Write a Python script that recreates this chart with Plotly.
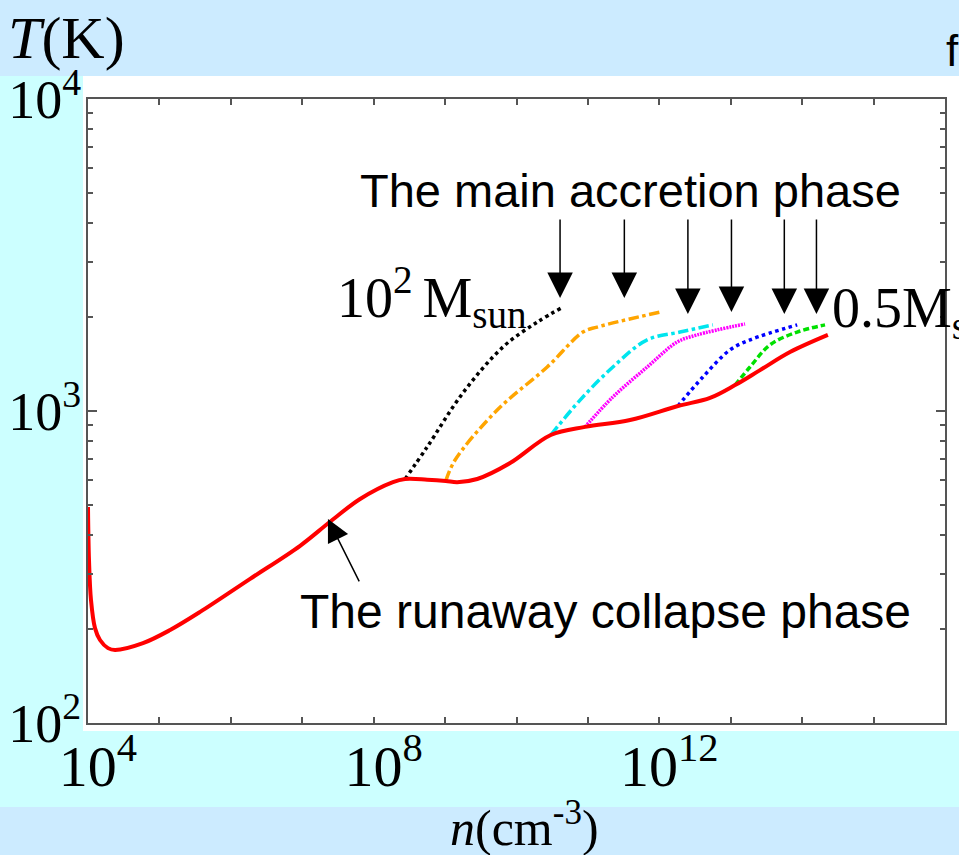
import plotly.graph_objects as go

# ---------------- data (log10 values) ----------------
red_log_n = [4.0, 4.014, 4.042, 4.098, 4.168, 4.28, 4.378, 4.77, 5.15, 5.57, 6.27, 6.97,
             7.39, 7.81, 8.27, 8.44, 8.75, 9.01, 9.17, 9.45, 9.91, 10.48, 10.96, 11.59,
             12.26, 12.71, 13.06, 13.41, 13.83, 14.36]
red_log_T = [2.692, 2.522, 2.394, 2.304, 2.266, 2.24, 2.234, 2.256, 2.298, 2.356, 2.462, 2.568,
             2.645, 2.718, 2.772, 2.782, 2.780, 2.776, 2.772, 2.782, 2.833, 2.923, 2.949, 2.971,
             3.016, 3.042, 3.083, 3.131, 3.189, 3.244]

black_log_n = [8.44, 8.75, 9.25, 9.81, 10.29, 10.65]
black_log_T = [2.782, 2.885, 3.058, 3.205, 3.285, 3.333]

orange_log_n = [9.01, 9.14, 9.73, 10.43, 10.93, 11.13, 12.01]
orange_log_T = [2.776, 2.843, 3.003, 3.141, 3.253, 3.269, 3.317]

cyan_log_n = [10.48, 10.89, 11.35, 11.83, 12.29, 12.75]
cyan_log_T = [2.923, 3.035, 3.141, 3.228, 3.253, 3.276]

magenta_log_n = [10.96, 11.35, 11.83, 12.25, 12.53, 13.20]
magenta_log_T = [2.949, 3.045, 3.141, 3.221, 3.244, 3.279]

blue_log_n = [12.26, 12.61, 12.99, 13.27, 13.93]
blue_log_T = [3.016, 3.109, 3.196, 3.228, 3.276]

green_log_n = [13.06, 13.27, 13.55, 13.93, 14.32]
green_log_T = [3.083, 3.141, 3.212, 3.253, 3.276]

# accretion-phase arrows: tip positions (log10 n, log10 T)
arrow_log_n = [10.61, 11.51, 12.40, 13.01, 13.75, 14.20]
arrow_log_T = [3.362, 3.362, 3.311, 3.317, 3.311, 3.311]

x_tick_exp = list(range(4, 17))
x_label_exp = [4, 8, 12]
y_tick_exp = [2, 3, 4]

# ---------------- figure ----------------
def lin(v):
    return [10 ** a for a in v]

fig = go.Figure()

series = [
    (black_log_n, black_log_T, "black", "dot", 3.5),
    (orange_log_n, orange_log_T, "#FFA500", "dashdot", 3.5),
    (cyan_log_n, cyan_log_T, "#00E5EE", "dashdot", 3.5),
    (magenta_log_n, magenta_log_T, "#FF00FF", "2px,1px", 3.5),
    (blue_log_n, blue_log_T, "#0000FF", "dot", 3.5),
    (green_log_n, green_log_T, "#00E000", "6px,3px", 3.5),
]
for xs, ys, col, dash, w in series:
    fig.add_trace(go.Scatter(x=lin(xs), y=lin(ys), mode="lines",
                             line=dict(color=col, dash=dash, width=w, shape="spline", smoothing=1.0),
                             showlegend=False, hoverinfo="skip"))

fig.add_trace(go.Scatter(x=lin(red_log_n), y=lin(red_log_T), mode="lines",
                         line=dict(color="#FF0000", width=4, shape="spline", smoothing=1.0),
                         showlegend=False, hoverinfo="skip"))

serif = "Liberation Serif, Times New Roman, serif"
sans = "Liberation Sans, Arial, sans-serif"
axcol = "#555555"

fig.update_xaxes(type="log", range=[4, 16], showgrid=False, zeroline=False, automargin=False,
                 showline=True, linecolor=axcol, linewidth=2, mirror="ticks",
                 ticks="inside", ticklen=6, tickwidth=1.5, tickcolor=axcol,
                 tickmode="array", tickvals=[10 ** e for e in x_tick_exp],
                 ticktext=[("10<sup>%d</sup>" % e) if e in x_label_exp else "" for e in x_tick_exp],
                 tickfont=dict(family=serif, size=58, color="black"),
                 ticklabelstandoff=-9, ticklabelshift=10)

minor_vals = [m * 10 ** e for e in [2, 3] for m in range(2, 10)]
fig.update_yaxes(type="log", range=[2, 4], showgrid=False, zeroline=False, automargin=False,
                 showline=True, linecolor=axcol, linewidth=2, mirror="ticks",
                 ticks="inside", ticklen=9, tickwidth=1.5, tickcolor=axcol,
                 tickmode="array", tickvals=[10 ** e for e in y_tick_exp],
                 ticktext=["10<sup>%d</sup>" % e for e in y_tick_exp],
                 tickfont=dict(family=serif, size=54, color="black"),
                 ticklabelstandoff=-6,
                 minor=dict(ticks="inside", ticklen=5, tickwidth=1.5, tickcolor=axcol,
                            tickmode="array", tickvals=minor_vals, showgrid=False))

W, H = 959, 855
L, R, T, B = 88, 14, 99, 132
pw, ph = W - L - R, H - T - B

def px(x):
    return (x - L) / pw

def py(y):
    return (H - B - y) / ph

blue_band = "#CCEBFF"
cyan_band = "#CCFFFF"
shapes = [
    dict(type="rect", xref="paper", yref="paper", x0=px(0), x1=px(W), y0=py(76), y1=py(0),
         fillcolor=blue_band, line=dict(width=0), layer="below"),
    dict(type="rect", xref="paper", yref="paper", x0=px(0), x1=px(83), y0=py(807), y1=py(76),
         fillcolor=cyan_band, line=dict(width=0), layer="below"),
    dict(type="rect", xref="paper", yref="paper", x0=px(0), x1=px(W), y0=py(807), y1=py(731),
         fillcolor=cyan_band, line=dict(width=0), layer="below"),
    dict(type="rect", xref="paper", yref="paper", x0=px(0), x1=px(W), y0=py(H), y1=py(807),
         fillcolor=blue_band, line=dict(width=0), layer="below"),
]

annotations = [
    dict(text="<i>T</i>(K)", xref="paper", yref="paper", x=px(6), y=py(38),
         xanchor="left", yanchor="middle", showarrow=False,
         font=dict(family=serif, size=60, color="black")),
    dict(text="<i>n</i>(cm<sup>-3</sup>)", xref="paper", yref="paper", x=px(524), y=py(824),
         xanchor="center", yanchor="middle", showarrow=False,
         font=dict(family=serif, size=50, color="black")),
    dict(text="f", xref="paper", yref="paper", x=px(944), y=py(50),
         xanchor="left", yanchor="middle", showarrow=False,
         font=dict(family=sans, size=44, color="black")),
    dict(text="The main accretion phase", xref="x", yref="y", x=11.59, y=3.708,
         xanchor="center", yanchor="middle", showarrow=False,
         font=dict(family=sans, size=47, color="black")),
    dict(text="The runaway collapse phase", xref="x", yref="y", x=11.25, y=2.356,
         xanchor="center", yanchor="middle", showarrow=False,
         font=dict(family=sans, size=48, color="black")),
    dict(text="10<sup>2 </sup>M<sub>sun</sub>", xref="x", yref="y", x=7.46, y=3.365,
         xanchor="left", yanchor="middle", showarrow=False,
         font=dict(family=serif, size=56, color="black")),
    dict(text="0.5M<sub>sun</sub>", xref="x", yref="y", x=14.39, y=3.317,
         xanchor="left", yanchor="middle", showarrow=False,
         font=dict(family=serif, size=56, color="black")),
    dict(text="", xref="x", yref="y", x=7.36, y=2.654, ax=32, ay=64,
         showarrow=True, arrowhead=2, arrowsize=3, arrowwidth=1.5, arrowcolor="black"),
]
for xn, yt in zip(arrow_log_n, arrow_log_T):
    tip_px = T + (4 - yt) * ph / 2
    annotations.append(dict(text="", xref="x", yref="y", x=xn, y=yt, ax=0, ay=-(tip_px - 218),
                            showarrow=True, arrowhead=2, arrowsize=3.4, arrowwidth=1.5,
                            arrowcolor="black"))

fig.update_layout(width=W, height=H, autosize=False,
                  margin=dict(l=L, r=R, t=T, b=B, pad=0),
                  paper_bgcolor="white", plot_bgcolor="white",
                  shapes=shapes, annotations=annotations, showlegend=False)

fig.write_html("out.html", config={"displayModeBar": False},
               post_script="document.body.style.margin='0';document.body.style.overflow='hidden';")
